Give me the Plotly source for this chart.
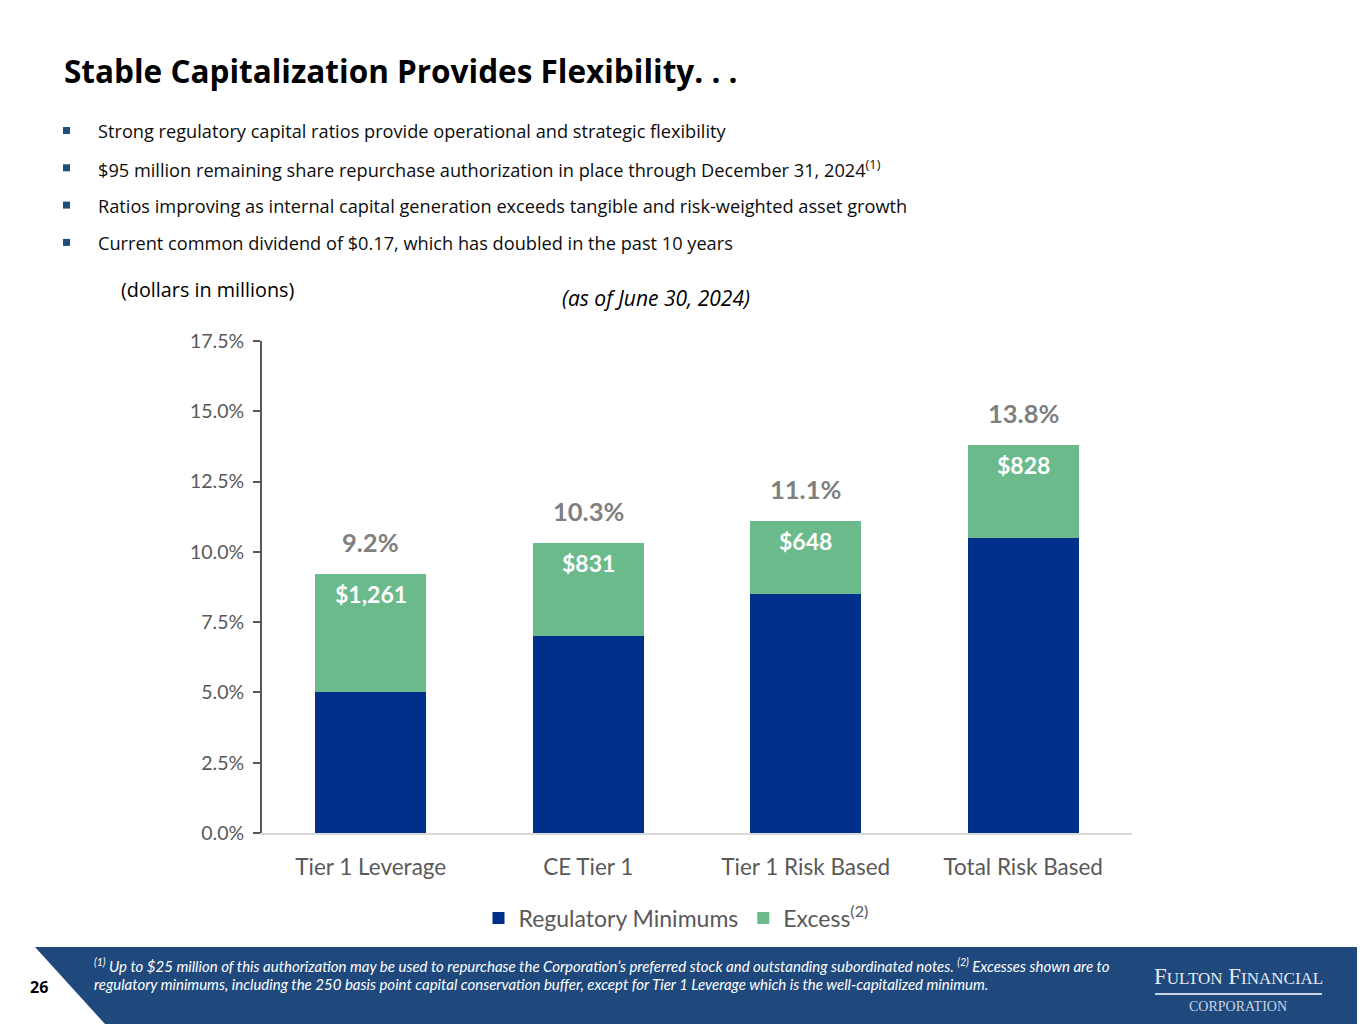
import plotly.graph_objects as go

categories = ["Tier 1 Leverage", "CE Tier 1", "Tier 1 Risk Based", "Total Risk Based"]
regulatory_minimums = [5.0, 7.0, 8.5, 10.5]
excess = [4.2, 3.3, 2.6, 3.3]
totals = [9.2, 10.3, 11.1, 13.8]
excess_dollars = ["$1,261", "$831", "$648", "$828"]
y_ticks = [0, 2.5, 5.0, 7.5, 10.0, 12.5, 15.0, 17.5]

bullets = [
    "Strong regulatory capital ratios provide operational and strategic flexibility",
    "$95 million remaining share repurchase authorization in place through December 31, 2024<sup>(1)</sup>",
    "Ratios improving as internal capital generation exceeds tangible and risk-weighted asset growth",
    "Current common dividend of $0.17, which has doubled in the past 10 years",
]

NAVY = "#00308A"
GREEN = "#6BBA8B"
FOOT = "#1F497D"
OFF = 8                      # page body margin offset
PW, PH = 1365, 1024          # page size
W, H = PW - OFF, PH - OFF    # figure size
L, R, T, B = 262, 1132, 341, 833   # plot area in page pixels
FONT = "Lato"
TFONT = "Open Sans"


def px(x, y):
    return (x - L) / (R - L), (B - y) / (B - T)


fig = go.Figure()
fig.add_trace(go.Bar(x=categories, y=regulatory_minimums, name="Regulatory Minimums",
                     marker=dict(color=NAVY, line=dict(width=0))))
fig.add_trace(go.Bar(x=categories, y=excess, name="Excess<sup>(2)</sup>",
                     marker=dict(color=GREEN, line=dict(width=0))))

annotations = []
for c, t, d in zip(categories, totals, excess_dollars):
    annotations.append(dict(x=c, y=t, xref="x", yref="y", text=f"<b>{t:.1f}%</b>",
                            showarrow=False, yshift=32,
                            font=dict(family=FONT, size=25.5, color="#7F7F7F")))
    annotations.append(dict(x=c, y=t, xref="x", yref="y", text=f"<b>{d}</b>",
                            showarrow=False, yshift=-20,
                            font=dict(family=FONT, size=23, color="white")))

# title
x0, y0 = px(62, 70)
annotations.append(dict(x=x0, y=y0, xref="paper", yref="paper", xanchor="left", yanchor="middle",
                        text="<b>Stable Capitalization Provides Flexibility. . .</b>", showarrow=False,
                        font=dict(family=TFONT, size=31.5, color="black")))

shapes = []
for i, btxt in enumerate(bullets):
    by = 131 + i * 37.3
    xx, yy = px(96, by)
    annotations.append(dict(x=xx, y=yy, xref="paper", yref="paper", xanchor="left", yanchor="middle",
                            text=btxt, showarrow=False,
                            font=dict(family=TFONT, size=18.2, color="#0D0D0D")))
    sx0, sy0 = px(63, by - 4)
    sx1, sy1 = px(70, by + 3)
    shapes.append(dict(type="rect", xref="paper", yref="paper", x0=sx0, x1=sx1, y0=sy1, y1=sy0,
                       fillcolor="#1F4E79", line=dict(width=0)))

xx, yy = px(119, 290)
annotations.append(dict(x=xx, y=yy, xref="paper", yref="paper", xanchor="left", yanchor="middle",
                        text="(dollars in millions)", showarrow=False,
                        font=dict(family=TFONT, size=19.8, color="black")))
xx, yy = px(656, 298)
annotations.append(dict(x=xx, y=yy, xref="paper", yref="paper", xanchor="center", yanchor="middle",
                        text="<i>(as of June 30, 2024)</i>", showarrow=False,
                        font=dict(family=TFONT, size=21, color="black")))

# footer band
p = [px(35, 947), px(PW, 947), px(PW, PH), px(105, PH)]
path = "M {} {} L {} {} L {} {} L {} {} Z".format(*[v for pt in p for v in pt])
shapes.append(dict(type="path", xref="paper", yref="paper", path=path,
                   fillcolor=FOOT, line=dict(width=0), layer="above"))

xx, yy = px(28, 987)
annotations.append(dict(x=xx, y=yy, xref="paper", yref="paper", xanchor="left", yanchor="middle",
                        text="<b>26</b>", showarrow=False,
                        font=dict(family=TFONT, size=16, color="black")))

foot1 = ("<sup>(1)</sup> Up to $25 million of this authorization may be used to repurchase the Corporation\u2019s "
         "preferred stock and outstanding subordinated notes. <sup>(2)</sup> Excesses shown are to")
foot2 = ("regulatory minimums, including the 250 basis point capital conservation buffer, except for "
         "Tier 1 Leverage which is the well-capitalized minimum.")
for txt, fy in [(foot1, 965), (foot2, 984)]:
    xx, yy = px(92, fy)
    annotations.append(dict(x=xx, y=yy, xref="paper", yref="paper", xanchor="left", yanchor="middle",
                            text=f"<i>{txt}</i>", showarrow=False,
                            font=dict(family=FONT, size=15, color="white")))

# logo
xx, yy = px(1238, 976)
annotations.append(dict(x=xx, y=yy, xref="paper", yref="paper", xanchor="center", yanchor="middle",
                        text="F<span style='font-size:17px'>ULTON</span> F<span style='font-size:17px'>INANCIAL</span>",
                        showarrow=False,
                        font=dict(family="Liberation Serif", size=23, color="#E4EAF2")))
lx0, ly = px(1155, 994)
lx1, _ = px(1322, 994)
shapes.append(dict(type="line", xref="paper", yref="paper", x0=lx0, x1=lx1, y0=ly, y1=ly,
                   line=dict(color="#C9D3E2", width=2)))
xx, yy = px(1238, 1006)
annotations.append(dict(x=xx, y=yy, xref="paper", yref="paper", xanchor="center", yanchor="middle",
                        text="CORPORATION", showarrow=False,
                        font=dict(family="Liberation Serif", size=14, color="#C9D3E2")))

lgx, lgy = px(676, 918)

fig.update_layout(
    width=W, height=H, autosize=False,
    margin=dict(l=L - OFF, r=W - (R - OFF), t=T - OFF, b=H - (B - OFF), pad=0),
    paper_bgcolor="white", plot_bgcolor="white",
    barmode="stack", bargap=0.49,
    hovermode=False,
    font=dict(family=FONT, color="#595959"),
    xaxis=dict(showline=True, linecolor="#D9D9D9", linewidth=1.5, ticks="", showgrid=False,
               tickfont=dict(family=FONT, size=22.5, color="#595959"), ticklabelstandoff=13,
               zeroline=False),
    yaxis=dict(range=[0, 17.5], tickvals=y_ticks, ticktext=[f"{v:.1f}%" for v in y_ticks],
               showline=True, linecolor="#595959", linewidth=2, ticks="outside", ticklen=7,
               tickwidth=2, tickcolor="#595959", showgrid=False, zeroline=False,
               tickfont=dict(family=FONT, size=19.5, color="#595959"), ticklabelstandoff=5),
    legend=dict(orientation="h", x=lgx, y=lgy, xanchor="center", yanchor="middle",
                font=dict(family=FONT, size=23, color="#595959"), traceorder="normal",
                itemwidth=30, bgcolor="rgba(0,0,0,0)"),
    annotations=annotations, shapes=shapes,
)

fig.write_html("out.html", config={"displayModeBar": False})
